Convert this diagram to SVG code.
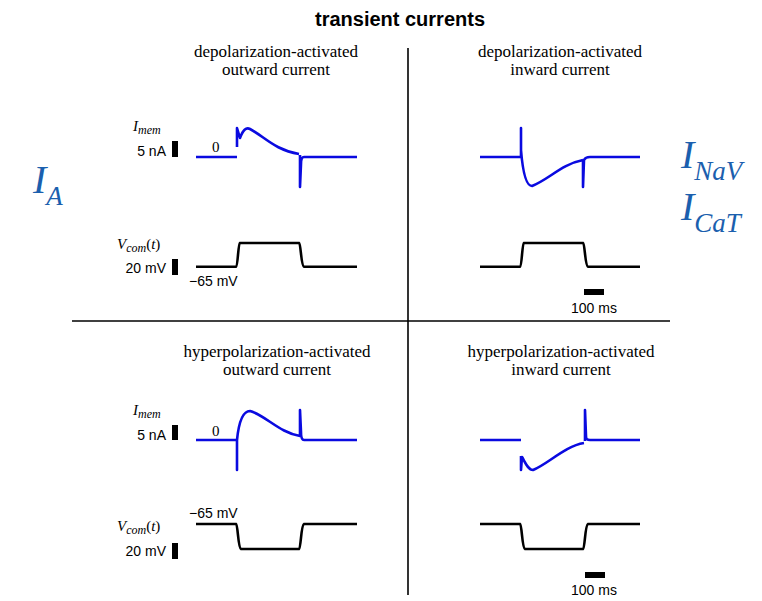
<svg xmlns="http://www.w3.org/2000/svg" width="762" height="601" viewBox="0 0 762 601">
<style>
.cur{fill:none;stroke:#0a0ae0;stroke-width:2.6;stroke-linejoin:round}
.vol{fill:none;stroke:#000;stroke-width:2.6;stroke-linejoin:round}
.sr{font-family:"Liberation Serif","DejaVu Serif",serif;font-size:15px;fill:#000}
.hd{font-family:"Liberation Serif","DejaVu Serif",serif;font-size:17px;fill:#000}
.ss{font-family:"Liberation Sans","DejaVu Sans",sans-serif;font-size:14px;fill:#000}
.it{font-style:italic}
.big{font-family:"Liberation Serif","DejaVu Serif",serif;font-style:italic;fill:#1b5fae}
.div{stroke:#000;stroke-width:1.6}
</style>
<rect width="762" height="601" fill="#fff"/>
<text x="400" y="26" text-anchor="middle" style="font-family:'Liberation Sans','DejaVu Sans',sans-serif;font-weight:bold;font-size:20px">transient currents</text>
<line class="div" x1="408" y1="48" x2="408" y2="595"/>
<line class="div" x1="72" y1="321" x2="670" y2="321"/>
<g id="headings" class="hd" text-anchor="middle">
<text x="276" y="57">depolarization-activated</text>
<text x="276" y="75">outward current</text>
<text x="560" y="57">depolarization-activated</text>
<text x="560" y="75">inward current</text>
<text x="277" y="357">hyperpolarization-activated</text>
<text x="277" y="375">outward current</text>
<text x="561" y="357">hyperpolarization-activated</text>
<text x="561" y="375">inward current</text>
</g>
<g id="big-labels">
<text class="big" x="33" y="193" font-size="40">I<tspan font-size="27" dy="12">A</tspan></text>
<text class="big" x="681" y="168" font-size="40">I<tspan font-size="27" dy="12">NaV</tspan></text>
<text class="big" x="681" y="220" font-size="40">I<tspan font-size="27" dy="12">CaT</tspan></text>
</g>
<g id="scale-labels">
<text class="sr it" x="133" y="131" font-size="16">I<tspan font-size="12" dy="3">mem</tspan></text>
<text class="ss" x="166" y="156" text-anchor="end">5 nA</text>
<rect x="172" y="141" width="6" height="16"/>
<text class="sr" x="212" y="152">0</text>
<text class="sr it" x="117" y="249" font-size="16">V<tspan font-size="12" dy="3">com</tspan><tspan dy="-3" font-style="normal">(</tspan>t<tspan font-style="normal">)</tspan></text>
<text class="ss" x="166" y="273" text-anchor="end">20 mV</text>
<rect x="172" y="259" width="6" height="16"/>
<text class="ss" x="189" y="286">−65 mV</text>
<rect x="584" y="289" width="20" height="6"/>
<text class="ss" x="594" y="313" text-anchor="middle">100 ms</text>

<text class="sr it" x="133" y="415" font-size="16">I<tspan font-size="12" dy="3">mem</tspan></text>
<text class="ss" x="166" y="440" text-anchor="end">5 nA</text>
<rect x="172" y="425" width="6" height="15"/>
<text class="sr" x="212" y="436">0</text>
<text class="ss" x="189" y="518">−65 mV</text>
<text class="sr it" x="117" y="531" font-size="16">V<tspan font-size="12" dy="3">com</tspan><tspan dy="-3" font-style="normal">(</tspan>t<tspan font-style="normal">)</tspan></text>
<text class="ss" x="166" y="556" text-anchor="end">20 mV</text>
<rect x="172" y="543" width="6" height="16"/>
<rect x="585" y="572" width="20" height="6"/>
<text class="ss" x="594" y="595" text-anchor="middle">100 ms</text>
</g>
<g id="traces">
<path class="cur" d="M196,157 H237 M237,147 L237,128 L240,138 C243,130 246,127 250,129 C265,137 275,150 299,154 M300,155 L300,187 L301,164 C301,159 302,157 304,157 H357"/>
<path class="vol" d="M196,266.7 H236 C238,266 238,244 240,243 H299 C301,244 301,266 304,266.7 H357"/>
<path class="cur" d="M480,157 H521 V128 L521,150 C523,175 527,186 532,186 C548,180 562,164 583,160 M583,160 V187 L584,160 C585,158 586,157 590,157 H640"/>
<path class="vol" d="M480,266.7 H520 C522,266 522,244 524,243 H583 C585,244 585,266 588,266.7 H640"/>

<path class="cur" d="M196,440 H237 V470 L237,440 C239,420 243,411 250,411 C265,415 280,433 300,436 V410 L301,432 C301,438 302,440 304,440 H357"/>
<path class="vol" d="M196,524 H236 C238,525 238,548 241,549 H299 C301,548 301,525 304,524 H357"/>
<path class="cur" d="M480,440 H521 M521,456 V470 L522,457 C525,462 528,470 533,470 C548,464 565,446 584,443 M585,441 V410 L586,436 C586,439 587,440 590,440 H640"/>
<path class="vol" d="M480,524 H520 C522,525 522,548 525,549 H583 C585,548 585,525 588,524 H640"/>
</g>
</svg>
